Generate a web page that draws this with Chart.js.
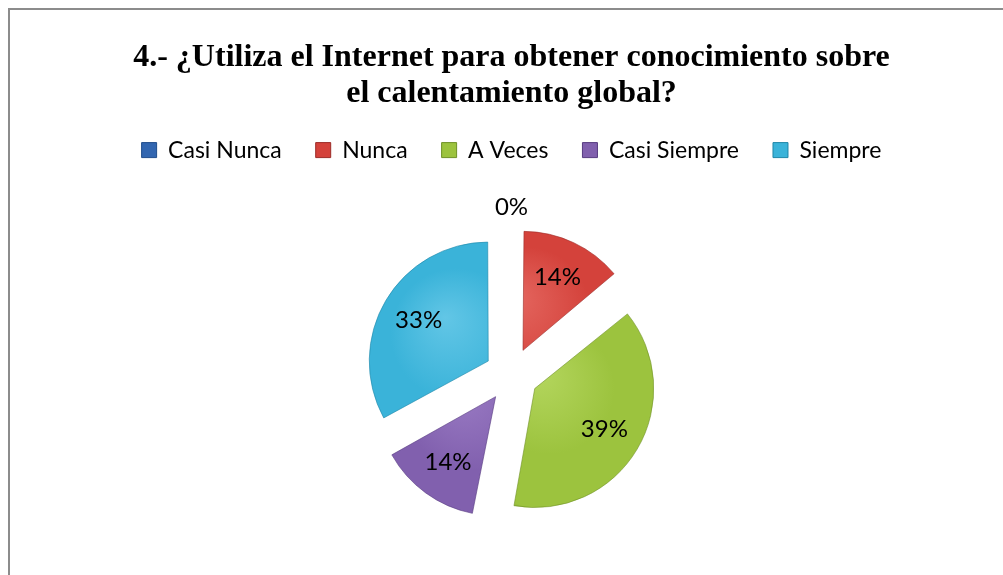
<!DOCTYPE html>
<html>
<head>
<meta charset="utf-8">
<script src="https://cdn.jsdelivr.net/npm/chart.js@4"></script>
<style>
  html, body { margin: 0; padding: 0; background: #fff; overflow: hidden; }
  #marco {
    position: absolute; left: 8px; top: 8px; width: 1100px; height: 700px;
    border-left: 2px solid #8c8c8c; border-top: 2px solid #8c8c8c;
  }
  #zona { position: absolute; left: 0; top: 0; width: 1003px; height: 578px; }
</style>
</head>
<body>
<div id="marco"></div>
<div id="zona"><canvas id="grafico" width="1003" height="578"></canvas></div>
<script>
// Respuestas de la pregunta 4 (porcentajes)
const categorias = ['Casi Nunca', 'Nunca', 'A Veces', 'Casi Siempre', 'Siempre'];
const porcentajes = [0, 14, 39, 14, 33];
const titulo = ['4.- ¿Utiliza el Internet para obtener conocimiento sobre', 'el calentamiento global?'];

// colores base, claros y oscuros de cada porción
const colores = ['#3266b0', '#d4423b', '#9cc33e', '#8160ae', '#3ab3d9'];
const claros = ['#5d8ad0', '#e4665f', '#b4d65e', '#9a7bc4', '#62c6e6'];
const oscuros = ['#1f4d8c', '#9c2c28', '#6f9126', '#573b80', '#1f87a8'];

const RADIO = 119;
const SEPARACION = 27; // desplazamiento real de cada porción en px
const FUENTE = 'Lato, "Open Sans", sans-serif';

// ángulo medio de cada porción (0 = arriba, sentido horario)
function anguloMedio(i) {
  const total = porcentajes.reduce((a, b) => a + b, 0);
  const antes = porcentajes.slice(0, i).reduce((a, b) => a + b, 0);
  return ((antes + porcentajes[i] / 2) / total) * Math.PI * 2 - Math.PI / 2;
}

function relleno(context) {
  const i = context.dataIndex;
  const area = context.chart.chartArea;
  if (!area) return colores[i];
  const c = context.chart.ctx;
  const a = anguloMedio(i);
  const cx = (area.left + area.right) / 2 + Math.cos(a) * SEPARACION;
  const cy = (area.top + area.bottom) / 2 + Math.sin(a) * SEPARACION;
  const g = c.createRadialGradient(cx - 20, cy - 30, 0, cx, cy, RADIO);
  g.addColorStop(0, claros[i]);
  g.addColorStop(0.55, colores[i]);
  g.addColorStop(0.93, colores[i]);
  g.addColorStop(1, oscuros[i]);
  return g;
}

// Chart.js agranda el radio de las porciones desplazadas; se deja igual para todas
const radioIgual = {
  id: 'radioIgual',
  afterDatasetsUpdate(chart) {
    chart.getDatasetMeta(0).data.forEach(arco => {
      const fix = 1 - Math.sin(Math.min(Math.PI, arco.circumference || 0));
      arco.outerRadius = RADIO - SEPARACION * fix;
    });
  }
};

// etiquetas de porcentaje dentro de cada porción
const etiquetas = {
  id: 'etiquetas',
  afterDatasetsDraw(chart) {
    const c = chart.ctx;
    const meta = chart.getDatasetMeta(0);
    c.save();
    c.font = '24px ' + FUENTE;
    c.fillStyle = '#000';
    c.textAlign = 'center';
    c.textBaseline = 'middle';
    meta.data.forEach((arco, i) => {
      const a = (arco.startAngle + arco.endAngle) / 2;
      let d = SEPARACION + RADIO * 0.68;
      if (porcentajes[i] === 0) d = RADIO + SEPARACION + 22;
      c.fillText(porcentajes[i] + '%', arco.x + Math.cos(a) * d, arco.y + Math.sin(a) * d);
    });
    c.restore();
  }
};

const ctx = document.getElementById('grafico').getContext('2d');
const grafico = new Chart(ctx, {
  type: 'pie',
  data: {
    labels: categorias,
    datasets: [{
      data: porcentajes,
      backgroundColor: relleno,
      borderColor: oscuros.map(c => c + '99'),
      borderWidth: 1,
      offset: SEPARACION * 4 // el arco se traslada offset / 4
    }]
  },
  options: {
    responsive: false,
    animation: false,
    radius: RADIO,
    layout: { padding: { left: 20, top: 16, right: 0, bottom: 0 } },
    plugins: {
      title: {
        display: true,
        text: titulo,
        color: '#000',
        font: { family: '"Liberation Serif", "Times New Roman", serif', size: 32, weight: 'bold', lineHeight: 1.15 },
        padding: { top: 23, bottom: -8 }
      },
      legend: {
        position: 'top',
        labels: {
          color: '#000',
          font: { family: FUENTE, size: 23 },
          boxWidth: 15,
          boxHeight: 15,
          padding: 34,
          generateLabels(chart) {
            return categorias.map((nombre, i) => ({
              text: nombre,
              fillStyle: colores[i],
              strokeStyle: oscuros[i],
              lineWidth: 1,
              hidden: false,
              index: i
            }));
          }
        }
      },
      tooltip: { enabled: false }
    }
  },
  plugins: [radioIgual, etiquetas]
});
</script>
</body>
</html>
